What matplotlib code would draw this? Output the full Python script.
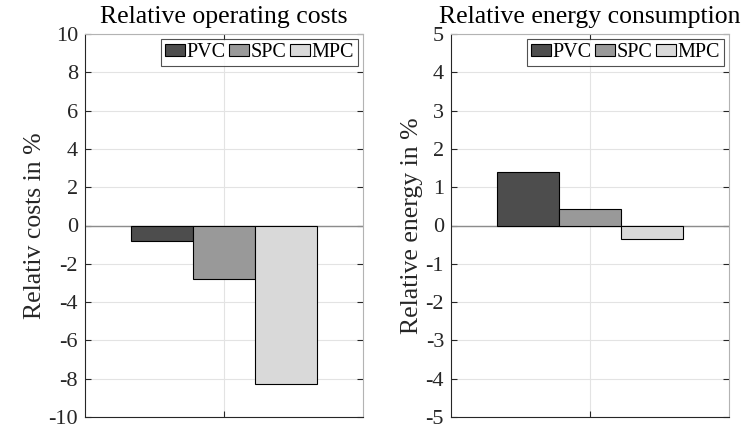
import numpy as np
import matplotlib
matplotlib.use("Agg")
import matplotlib.pyplot as plt

plt.rcParams['font.family'] = ['Liberation Serif', 'DejaVu Serif']

methods = ['PVC', 'SPC', 'MPC']
colors = ['#4d4d4d', '#999999', '#d9d9d9']
cost_values = [-0.82, -2.8, -8.3]
energy_values = [1.4, 0.44, -0.34]

panels = [
    ("Relative operating costs", "Relativ costs in %", cost_values, (-10, 10), np.arange(-10, 11, 2)),
    ("Relative energy consumption", "Relative energy in %", energy_values, (-5, 5), np.arange(-5, 6, 1)),
]

fig = plt.figure(figsize=(7.51, 4.28), dpi=100)
lefts = [85 / 751, 451 / 751]
dark = '#262626'
light = '#b3b3b3'

for left, (title, ylabel, vals, ylim, yticks) in zip(lefts, panels):
    ax = fig.add_axes([left, 1 - 417 / 428, 278 / 751, 383 / 428])
    w = 0.223
    offsets = [-w, 0, w]
    for off, v, c, name in zip(offsets, vals, colors, methods):
        ax.bar(1 + off, v, width=w, color=c, edgecolor='black', linewidth=0.8,
               label=name, zorder=3)
    ax.axhline(0, color='#8c8c8c', linewidth=1.0, zorder=2)
    ax.set_xlim(0.5, 1.5)
    ax.set_ylim(*ylim)
    ax.set_yticks(yticks)
    ax.set_yticklabels([str(t) for t in yticks])
    ax.set_xticks([1])
    ax.set_xticklabels([''])
    ax.grid(True, color='#e3e3e3', linewidth=0.8, zorder=0)
    ax.set_axisbelow(True)
    ax.tick_params(direction='in', length=4, width=0.8, colors=dark, labelsize=16,
                   right=True, top=True, pad=5)
    ax.spines['left'].set_color(dark)
    ax.spines['bottom'].set_color(dark)
    ax.spines['right'].set_color(light)
    ax.spines['top'].set_color(light)
    for s in ax.spines.values():
        s.set_linewidth(0.8)
    ax.set_title(title, fontsize=18.5, color='black', pad=8)
    ax.set_ylabel(ylabel, fontsize=18.5, color=dark, labelpad=2)
    leg = ax.legend(ncol=3, loc='upper right', fontsize=14.5, frameon=True, fancybox=False,
                    edgecolor=dark, handlelength=1.0, handleheight=0.55, handletextpad=0.05,
                    columnspacing=0.2, borderpad=0.2, borderaxespad=0.25)
    leg.get_frame().set_linewidth(0.8)

fig.savefig("out.png", dpi=100)
